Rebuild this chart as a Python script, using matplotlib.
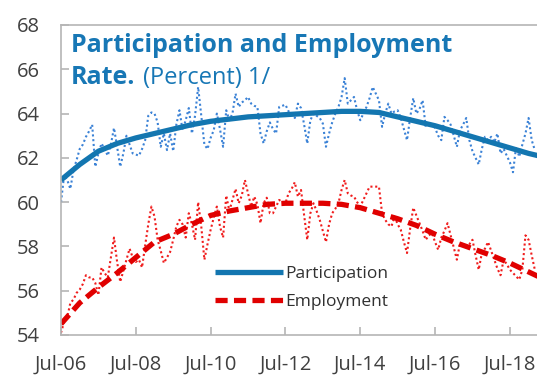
import numpy as np
import matplotlib
matplotlib.use("Agg")
import matplotlib.pyplot as plt

# Monthly data, Jul-06 onward
participation = [60.0, 61.2, 61.0, 60.6, 61.45, 61.9, 62.4, 62.6, 62.95, 63.2, 63.5, 61.6, 62.2, 62.65, 62.4, 62.1, 62.6, 63.35, 62.5, 61.6,
                 62.2, 63.0, 62.6, 62.2, 62.15, 62.1, 62.4, 62.8, 63.9, 64.05, 64.0, 63.6, 62.5, 63.1, 62.35, 63.1, 62.3, 63.5, 64.15, 63.25,
                 63.7, 64.25, 63.1, 63.9, 65.2, 63.9, 62.6, 62.4, 62.9, 63.25, 64.0, 63.3, 62.5, 64.15, 63.7, 64.0, 64.9, 64.3, 64.5, 64.6,
                 64.75, 64.45, 64.35, 64.3, 63.1, 62.65, 63.2, 63.6, 63.3, 63.1, 64.3, 64.35, 64.4, 64.1, 64.0, 63.8, 64.45, 64.25, 63.5, 62.65,
                 63.7, 64.0, 63.9, 63.8, 63.55, 62.5, 63.1, 63.6, 64.0, 64.3, 64.75, 65.6, 64.45, 64.6, 64.75, 64.15, 63.7, 64.0, 64.3, 64.7,
                 65.2, 64.9, 64.6, 63.4, 64.0, 64.45, 64.0, 64.1, 64.15, 63.8, 63.3, 62.8, 63.8, 64.7, 64.0, 64.2, 64.6, 63.4, 63.6, 63.5,
                 63.35, 63.0, 62.8, 63.85, 63.7, 63.5, 63.0, 62.5, 63.25, 63.5, 63.8, 62.8, 62.3, 62.0, 61.7, 62.4, 62.95, 62.8, 62.95, 62.7,
                 63.1, 62.2, 62.4, 62.1, 61.8, 61.35, 62.5, 62.05, 62.6, 63.1, 63.8, 62.8, 62.35]
employment = [54.1, 54.6, 54.8, 55.45, 55.6, 55.9, 56.05, 56.3, 56.7, 56.6, 56.6, 56.35, 55.8, 57.05, 56.8, 56.6, 57.5, 58.4, 57.3, 56.4,
              56.9, 57.4, 57.9, 57.5, 57.3, 57.4, 57.05, 58.05, 59.0, 59.8, 59.35, 58.3, 57.8, 57.25, 57.5, 57.75, 58.3, 58.9, 59.2, 59.0,
              58.4, 59.5, 59.0, 58.3, 60.0, 58.9, 57.4, 58.1, 58.75, 59.3, 59.8, 58.9, 58.4, 60.3, 59.6, 60.1, 60.6, 59.95, 60.3, 61.0,
              60.4, 59.8, 60.25, 59.9, 59.05, 59.95, 60.2, 59.5, 59.5, 59.8, 60.1, 60.0, 59.95, 60.4, 60.6, 60.9, 60.25, 60.55, 59.4, 58.3,
              59.5, 59.95, 59.6, 59.2, 58.7, 58.2, 59.0, 59.5, 59.7, 59.95, 60.55, 61.0, 60.4, 60.3, 60.25, 60.0, 59.8, 60.1, 60.4, 60.7,
              60.7, 60.7, 60.7, 59.5, 59.2, 59.0, 58.9, 59.35, 59.0, 58.75, 58.2, 57.7, 58.8, 59.75, 59.4, 59.05, 58.7, 58.3, 58.5, 58.6,
              58.2, 57.85, 58.4, 58.7, 59.05, 58.5, 57.95, 57.4, 58.15, 58.1, 58.0, 58.1, 58.3, 57.6, 56.95, 57.7, 57.9, 58.2, 57.8, 57.4,
              57.0, 56.7, 57.4, 57.2, 56.95, 56.8, 56.65, 56.5, 56.95, 58.5, 58.3, 57.6, 56.95]

# Trend lines, read every 6 months (month index from Jul-06)
trend_months = [0, 6, 12, 18, 24, 30, 36, 42, 48, 54, 60, 66, 72, 78, 84, 90, 96, 102, 108, 114, 120, 126, 132, 138, 144, 150, 153]
participation_trend = [61.0, 61.7, 62.3, 62.65, 62.9, 63.1, 63.3, 63.5, 63.65, 63.75, 63.85, 63.9, 63.95, 64.0, 64.05, 64.1, 64.1,
                       64.05, 63.85, 63.65, 63.45, 63.2, 62.95, 62.7, 62.45, 62.2, 62.1]
employment_trend = [54.5, 55.45, 56.15, 56.8, 57.5, 58.2, 58.55, 59.0, 59.4, 59.6, 59.75, 59.9, 59.95, 59.95, 59.95, 59.9, 59.75,
                    59.5, 59.25, 58.95, 58.55, 58.2, 57.9, 57.6, 57.25, 56.85, 56.65]

tick_months = [0, 24, 48, 72, 96, 120, 144]
tick_labels = ["Jul-06", "Jul-08", "Jul-10", "Jul-12", "Jul-14", "Jul-16", "Jul-18"]
y_ticks = [54, 56, 58, 60, 62, 64, 66, 68]

plt.rcParams['font.family'] = ['Open Sans', 'DejaVu Sans']

W, H = 537, 376
fig = plt.figure(figsize=(W / 100, H / 100), dpi=100)
ax = fig.add_axes([61 / W, (H - 335) / H, (W - 61) / W, (335 - 25) / H])

months = np.arange(len(participation))
blue_dot = '#3b82d6'
red_dot = '#f01c1c'
blue = '#1376b0'
red = '#e00000'

ax.plot(months, participation, ls=(0, (1, 1.3)), color=blue_dot, lw=1.5)
ax.plot(months, employment, ls=(0, (1, 1.3)), color=red_dot, lw=1.5)
ax.plot(trend_months, participation_trend, color=blue, lw=3.8, label='Participation', solid_capstyle='butt')
ax.plot(trend_months, employment_trend, color=red, lw=3.8, ls=(0, (2.3, 1.2)), label='Employment')

ax.set_xlim(0, 152.7)
ax.set_ylim(54, 68)
ax.set_xticks(tick_months)
ax.set_xticklabels(tick_labels)
ax.set_yticks(y_ticks)

spine_c = '#b5b5b5'
for s in ['left', 'top', 'bottom']:
    ax.spines[s].set_color(spine_c)
    ax.spines[s].set_linewidth(1.2)
ax.spines['right'].set_visible(False)
ax.tick_params(axis='both', direction='in', length=6, width=1.2, color=spine_c,
               labelsize=14.5, labelcolor='#404040')
ax.tick_params(axis='x', pad=14)
ax.tick_params(axis='y', pad=15)

title_c = '#1777b5'
fig.text(71 / W, 1 - 45 / H, 'Participation and Employment', fontsize=18, fontweight='bold',
         color=title_c, va='center', ha='left')
fig.text(71 / W, 1 - 78 / H, 'Rate.', fontsize=18, fontweight='bold', color=title_c, va='center', ha='left')
fig.text(143 / W, 1 - 78 / H, '(Percent) 1/', fontsize=17, color=title_c, va='center', ha='left')

leg = ax.legend(loc='upper left', bbox_to_anchor=(215 / W, 1 - 266 / H), bbox_transform=fig.transFigure,
                frameon=False, fontsize=12.5, handlelength=3.9, handletextpad=0.15, borderpad=0,
                borderaxespad=0, labelspacing=0.7)
for txt in leg.get_texts():
    txt.set_color('#303030')

fig.savefig('out.png', dpi=100)
